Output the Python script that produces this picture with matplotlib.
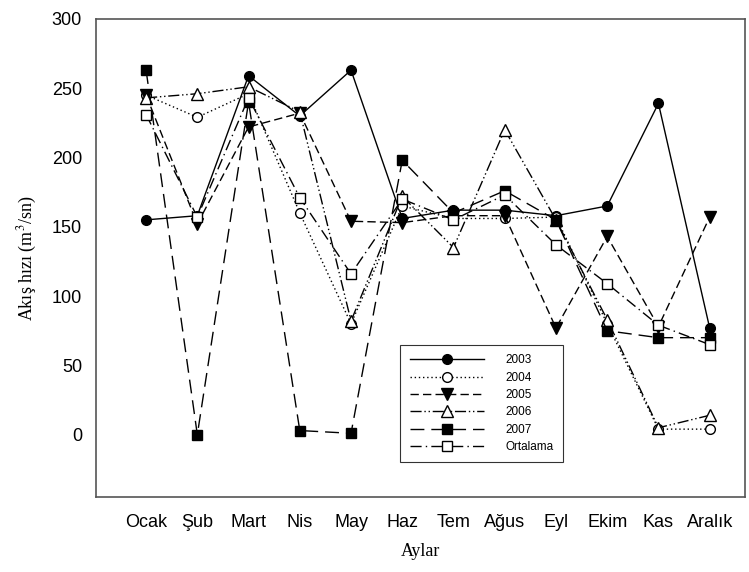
import matplotlib
matplotlib.use("Agg")
import matplotlib.pyplot as plt

plt.rcParams['mathtext.fontset'] = 'stix'

months = ['Ocak', 'Şub', 'Mart', 'Nis', 'May', 'Haz', 'Tem', 'Ağus', 'Eyl', 'Ekim', 'Kas', 'Aralık']
y2003 = [155, 158, 259, 230, 263, 156, 162, 162, 158, 165, 239, 77]
y2004 = [245, 229, 246, 160, 80, 165, 156, 156, 157, 80, 4, 4]
y2005 = [245, 152, 222, 232, 154, 153, 158, 158, 77, 143, 78, 157]
y2006 = [243, 246, 251, 233, 82, 172, 135, 220, 155, 83, 5, 14]
y2007 = [263, 0, 240, 3, 1, 198, 160, 176, 155, 75, 70, 70]
ortalama = [231, 157, 243, 171, 116, 170, 155, 173, 137, 109, 79, 65]

x = list(range(len(months)))

fig = plt.figure(figsize=(7.49, 5.72), dpi=100)
ax = fig.add_axes([0.128, 0.131, 0.866, 0.836])

ms = 7
ax.plot(x, y2003, color='black', lw=1, ls='-', marker='o', ms=ms,
        mfc='black', mec='black', label='2003')
ax.plot(x, y2004, color='black', lw=1, ls=(0, (1, 2)), marker='o', ms=ms,
        mfc='white', mec='black', label='2004')
ax.plot(x, y2005, color='black', lw=1, ls=(0, (6, 3)), marker='v', ms=ms + 1,
        mfc='black', mec='black', label='2005')
ax.plot(x, y2006, color='black', lw=1, ls=(0, (8, 2, 1, 2, 1, 2)), marker='^', ms=ms + 1,
        mfc='white', mec='black', label='2006')
ax.plot(x, y2007, color='black', lw=1, ls=(0, (10, 5)), marker='s', ms=ms,
        mfc='black', mec='black', label='2007')
ax.plot(x, ortalama, color='black', lw=1, ls=(0, (8, 3, 1, 3)), marker='s', ms=ms,
        mfc='white', mec='black', label='Ortalama')

ax.set_xlim(-0.98, 11.68)
ax.set_ylim(-45, 300)
ax.set_yticks([0, 50, 100, 150, 200, 250, 300])
ax.set_xticks(x)
ax.set_xticklabels(months)
ax.tick_params(length=0, labelsize=13)
ax.tick_params(axis='x', pad=12)
ax.tick_params(axis='y', pad=10)
for lab in ax.get_xticklabels() + ax.get_yticklabels():
    lab.set_family('Liberation Sans')

for sp in ax.spines.values():
    sp.set_color('#555555')
    sp.set_linewidth(1.2)

ax.set_xlabel('Aylar', family='Liberation Serif', fontsize=13, labelpad=9)
ax.set_ylabel('Akış hızı (m$^3$/sn)', family='Liberation Serif', fontsize=13, labelpad=9)

leg = ax.legend(loc='lower left', bbox_to_anchor=(0.46, 0.06), fontsize=8.5,
                handlelength=6.3, handletextpad=1.8, labelspacing=0.45,
                frameon=True, fancybox=False, edgecolor='black', borderpad=0.8)
leg.get_frame().set_linewidth(0.8)
for t in leg.get_texts():
    t.set_family('Liberation Sans')

fig.savefig('out.png', dpi=100)
